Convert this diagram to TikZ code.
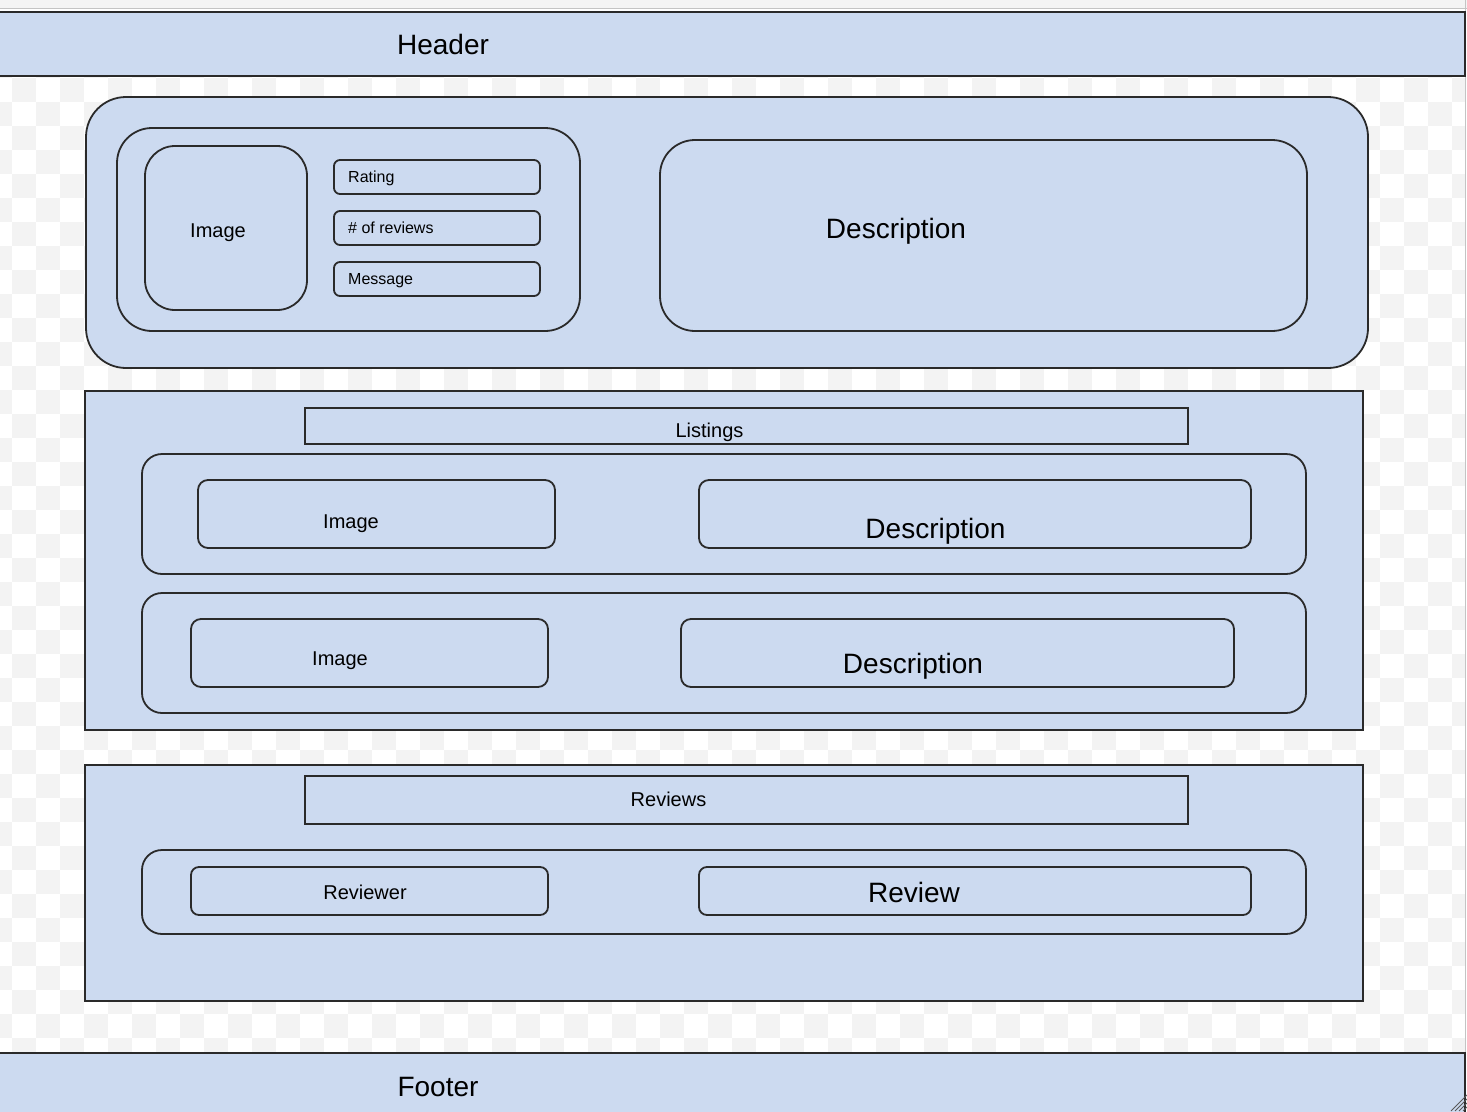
\documentclass[tikz,border=0pt]{standalone}
\usepackage{fontspec}
\setmainfont{Liberation Sans}
\definecolor{boxfill}{HTML}{CCDAF0}
\definecolor{boxline}{HTML}{2A2A2A}
\definecolor{checker}{HTML}{F3F3F3}
\definecolor{topstrip}{HTML}{F4F4F4}
\definecolor{edgegray}{HTML}{C4C4C4}
\newcommand{\fsz}[1]{\fontsize{#1}{#1}\selectfont}
\begin{document}
\begin{tikzpicture}[x=1pt,y=-1pt,
  box/.style={draw=boxline, fill=boxfill, line width=1.8pt, inner sep=0pt, outer sep=0pt},
  big/.style={inner sep=0pt, font=\fsz{28}, text height=20pt, text depth=0pt},
  mid/.style={inner sep=0pt, font=\fsz{20}, text height=14.4pt, text depth=0pt},
  small/.style={inner sep=0pt, font=\fsz{16}, text height=11.5pt, text depth=0pt, anchor=west},
]
\useasboundingbox (0,0) rectangle (1467,1111);
\fill[white] (0,0) rectangle (1467,1111);
% top strip
\fill[topstrip] (0,0) rectangle (1467,8);
\draw[edgegray, line width=1.2pt] (0,8.5) -- (1467,8.5);
% checker background
\begin{scope}
\clip (0,76) rectangle (1465,1053);
\foreach \i in {-1,...,60}{
  \foreach \j in {-1,...,41}{
    \pgfmathtruncatemacro\k{mod(\i+\j+100,2)}
    \ifnum\k=0
      \fill[checker] ({12+24*\i},{78+24*\j}) rectangle ++(24,24);
    \fi
  }
}
\end{scope}
\draw[edgegray, line width=1.2pt] (1465.5,0) -- (1465.5,1111);

% header and footer
\node[box, minimum width=1468pt, minimum height=64pt] (header) at (731,44) {};
\node[big] (headert) at (443,44) {Header};
\node[box, minimum width=1468pt, minimum height=67pt] (footer) at (731,1086.5) {};
\node[big] (footert) at (438,1086) {Footer};

% top product block
\node[box, rounded corners=40pt, minimum width=1282pt, minimum height=271pt] (top) at (727,232.5) {};
\node[box, rounded corners=35pt, minimum width=463pt, minimum height=203pt] (info) at (348.5,229.5) {};
\node[box, rounded corners=30pt, minimum width=162pt, minimum height=164pt] (img) at (226,228) {};
\node[mid] (imgt) at (218,230) {Image};
\node[box, rounded corners=6pt, minimum width=206pt, minimum height=34pt] (rating) at (437,177) {};
\node[small] (ratingt) at (348,177) {Rating};
\node[box, rounded corners=6pt, minimum width=206pt, minimum height=34pt] (nrev) at (437,228) {};
\node[small] (nrevt) at (348,228) {\# of reviews};
\node[box, rounded corners=6pt, minimum width=206pt, minimum height=34pt] (msg) at (437,279) {};
\node[small] (msgt) at (348,279) {Message};
\node[box, rounded corners=35pt, minimum width=647pt, minimum height=191pt] (desc) at (983.5,235.5) {};
\node[big] (desct) at (896,228) {Description};

% listings
\node[box, minimum width=1278pt, minimum height=339pt] (listings) at (724,560.5) {};
\node[box, minimum width=883pt, minimum height=36pt] (listlabel) at (746.5,426) {};
\node[mid] (listlabelt) at (709.5,430) {Listings};
\node[box, rounded corners=20pt, minimum width=1164pt, minimum height=120pt] (row1) at (724,514) {};
\node[box, rounded corners=10pt, minimum width=357pt, minimum height=68pt] (r1img) at (376.5,514) {};
\node[mid] (r1imgt) at (351,521) {Image};
\node[box, rounded corners=10pt, minimum width=552pt, minimum height=68pt] (r1desc) at (975,514) {};
\node[big] (r1desct) at (935.5,528) {Description};
\node[box, rounded corners=20pt, minimum width=1164pt, minimum height=120pt] (row2) at (724,653) {};
\node[box, rounded corners=10pt, minimum width=357pt, minimum height=68pt] (r2img) at (369.5,653) {};
\node[mid] (r2imgt) at (340,658) {Image};
\node[box, rounded corners=10pt, minimum width=553pt, minimum height=68pt] (r2desc) at (957.5,653) {};
\node[big] (r2desct) at (913,663) {Description};

% reviews
\node[box, minimum width=1278pt, minimum height=236pt] (reviews) at (724,883) {};
\node[box, minimum width=883pt, minimum height=48pt] (revlabel) at (746.5,800) {};
\node[mid] (revlabelt) at (668.5,799) {Reviews};
\node[box, rounded corners=20pt, minimum width=1164pt, minimum height=84pt] (revrow) at (724,892) {};
\node[box, rounded corners=8pt, minimum width=357pt, minimum height=48pt] (reviewer) at (369.5,891) {};
\node[mid] (reviewert) at (365,892) {Reviewer};
\node[box, rounded corners=8pt, minimum width=552pt, minimum height=48pt] (review) at (975,891) {};
\node[big] (reviewt) at (914,892) {Review};

% resize grip
\foreach \d in {4,8,12,16}{
  \draw[gray!70!black, line width=0.9pt] ({1467-\d},1111) -- (1467,{1111-\d});
}
\end{tikzpicture}
\end{document}
